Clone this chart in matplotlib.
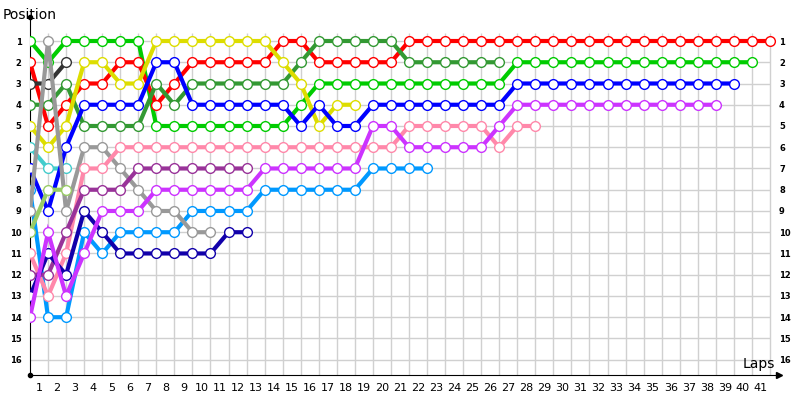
import matplotlib
matplotlib.use("Agg")
import matplotlib.pyplot as plt

# Lap chart: running position of each car, lap 0 = starting grid
driver_colors = ["#00cc00", "#ff0000", "#333333", "#339933", "#dddd00", "#44cccc", "#0000ff",
                 "#0099ff", "#999999", "#99cc66", "#ff88aa", "#993399", "#1100aa", "#cc33ff"]

pos_green = [1, 2, 1, 1, 1, 1, 1, 5, 5, 5, 5, 5, 5, 5, 5, 4, 3, 3, 3, 3, 3, 3, 3, 3, 3, 3, 3,
             2, 2, 2, 2, 2, 2, 2, 2, 2, 2, 2, 2, 2, 2]
pos_red = [2, 5, 4, 3, 3, 2, 2, 4, 3, 2, 2, 2, 2, 2, 1, 1, 2, 2, 2, 2, 2,
           1, 1, 1, 1, 1, 1, 1, 1, 1, 1, 1, 1, 1, 1, 1, 1, 1, 1, 1, 1, 1]
pos_darkgray = [3, 3, 2]
pos_forest = [4, 4, 3, 5, 5, 5, 5, 3, 4, 3, 3, 3, 3, 3, 3, 2, 1, 1, 1, 1, 1, 2, 2, 2, 2, 2, 2]
pos_yellow = [5, 6, 5, 2, 2, 3, 3, 1, 1, 1, 1, 1, 1, 1, 2, 3, 5, 4, 4]
pos_teal = [6, 7, 7]
pos_blue = [7, 9, 6, 4, 4, 4, 4, 2, 2, 4, 4, 4, 4, 4, 4, 5, 4, 5, 5, 4, 4, 4, 4, 4, 4, 4, 4,
            3, 3, 3, 3, 3, 3, 3, 3, 3, 3, 3, 3, 3]
pos_lightblue = [8, 14, 14, 10, 11, 10, 10, 10, 10, 9, 9, 9, 9, 8, 8, 8, 8, 8, 8, 7, 7, 7, 7]
pos_gray = [9, 1, 9, 6, 6, 7, 8, 9, 9, 10, 10]
pos_lime = [10, 8, 8]
pos_pink = [11, 13, 11, 7, 7, 6, 6, 6, 6, 6, 6, 6, 6, 6, 6, 6, 6, 6, 6, 6, 6,
            5, 5, 5, 5, 5, 6, 5, 5]
pos_purple = [12, 12, 10, 8, 8, 8, 7, 7, 7, 7, 7, 7, 7]
pos_navy = [13, 11, 12, 9, 10, 11, 11, 11, 11, 11, 11, 10, 10]
pos_violet = [14, 10, 13, 11, 9, 9, 9, 8, 8, 8, 8, 8, 8, 7, 7, 7, 7, 7, 7, 5, 5, 6, 6, 6, 6, 6, 5,
              4, 4, 4, 4, 4, 4, 4, 4, 4, 4, 4, 4]

all_positions = [pos_green, pos_red, pos_darkgray, pos_forest, pos_yellow, pos_teal, pos_blue,
                 pos_lightblue, pos_gray, pos_lime, pos_pink, pos_purple, pos_navy, pos_violet]

lap_labels = [str(i) for i in range(1, 42)]
position_labels = [str(i) for i in range(1, 17)]

fig = plt.figure(figsize=(8, 4), dpi=100)
ax = fig.add_axes([30 / 800, 25 / 400, 749 / 800, 358 / 400])
ax.set_xlim(0, 41.5)
ax.set_ylim(16.72, -0.13)

# grid
grid_c = "#d0d0d0"
ax.hlines(range(1, 17), 0, 41, color=grid_c, lw=1, zorder=0)
ax.vlines(range(1, 42), 0.6, 16.72, color=grid_c, lw=1, zorder=0)

# driver lines
for positions, color in zip(all_positions, driver_colors):
    laps = list(range(len(positions)))
    ax.plot(laps, positions, color=color, lw=3, marker="o", markersize=7,
            markerfacecolor="white", markeredgecolor=color, markeredgewidth=1,
            solid_joinstyle="miter", zorder=3)

# axes look
for side in ["top", "right"]:
    ax.spines[side].set_visible(False)
ax.plot(1, 0, ">k", ms=5, transform=ax.transAxes, clip_on=False)
ax.plot(0, 1, "ok", ms=3, transform=ax.transAxes, clip_on=False)
ax.plot(0, 0, "ok", ms=3, transform=ax.transAxes, clip_on=False)

ax.set_xticks([i - 0.5 for i in range(1, 42)])
ax.set_xticklabels(lap_labels, fontsize=8)
ax.set_yticks(range(1, 17))
ax.set_yticklabels(position_labels, fontsize=6, fontweight="bold")
ax.tick_params(axis="both", length=0)
ax.tick_params(axis="x", pad=6)
ax.tick_params(axis="y", pad=6)

# position labels repeated on the right side
ax_r = ax.secondary_yaxis("right")
ax_r.set_yticks(range(1, 17))
ax_r.set_yticklabels(position_labels, fontsize=6, fontweight="bold")
ax_r.tick_params(length=0, pad=0)
ax_r.spines["right"].set_visible(False)

fig.text(3 / 800, 1 - 15 / 400, "Position", fontsize=10, va="center", ha="left")
fig.text(743 / 800, 1 - 364 / 400, "Laps", fontsize=10, va="center", ha="left")

fig.savefig("out.png", dpi=100)
